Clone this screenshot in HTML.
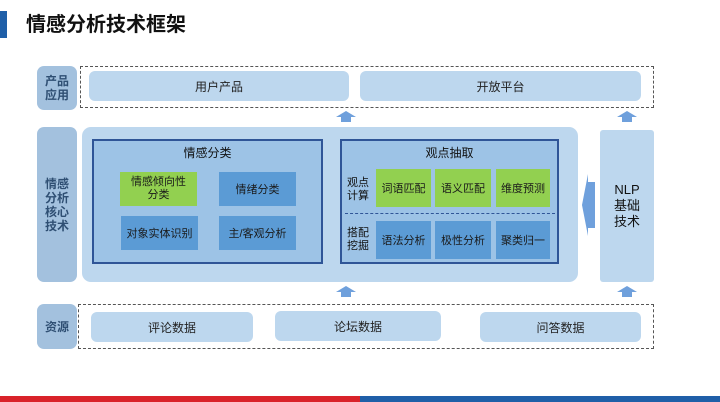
<!DOCTYPE html>
<html><head><meta charset="utf-8"><style>
body{margin:0;width:720px;height:402px;background:#fff;position:relative;overflow:hidden;font-family:"Liberation Sans","Noto Sans CJK SC",sans-serif;}
div{position:absolute;box-sizing:border-box;}
.c{display:flex;align-items:center;justify-content:center;text-align:center;}
.lb{background:#a3c1de;border-radius:7px;color:#2f4f73;font-weight:bold;font-size:12px;line-height:14px;}
.lt{background:#bdd7ee;border-radius:6px;font-size:12px;color:#222;}
.m{background:#5b9bd5;font-size:11px;color:#1a1a1a;}
.g{background:#92d050;font-size:11px;color:#1a1a1a;}
.dash{border:1px dashed #555;}
.ar{width:0;height:0;border-left:10px solid transparent;border-right:10px solid transparent;border-bottom:6px solid #6fa0dc;}
.as{width:10px;height:5px;background:#6fa0dc;}
</style></head><body>
<div style="left:0;top:11px;width:7px;height:27px;background:#1f5fa8"></div>
<div style="left:26px;top:10px;font-size:20px;font-weight:bold;color:#111;line-height:30px">情感分析技术框架</div>

<div class="lb c" style="left:37px;top:66px;width:40px;height:44px">产品<br>应用</div>
<div class="dash" style="left:80px;top:66px;width:574px;height:42px"></div>
<div class="lt c" style="left:89px;top:71px;width:260px;height:30px">用户产品</div>
<div class="lt c" style="left:360px;top:71px;width:281px;height:30px">开放平台</div>

<div class="ar" style="left:336px;top:111px"></div><div class="as" style="left:341px;top:117px"></div>
<div class="ar" style="left:617px;top:111px"></div><div class="as" style="left:622px;top:117px"></div>

<div class="lb c" style="left:37px;top:127px;width:40px;height:155px">情感<br>分析<br>核心<br>技术</div>
<div style="left:82px;top:127px;width:496px;height:155px;background:#bdd7ee;border-radius:9px"></div>
<div style="left:92px;top:139px;width:231px;height:125px;background:#9dc3e6;border:2px solid #2f5597"></div>
<div class="c" style="left:92px;top:143px;width:231px;height:18px;font-size:12px;color:#111">情感分类</div>
<div class="g c" style="left:120px;top:172px;width:77px;height:34px;line-height:13px">情感倾向性<br>分类</div>
<div class="m c" style="left:219px;top:172px;width:77px;height:34px">情绪分类</div>
<div class="m c" style="left:121px;top:216px;width:77px;height:34px">对象实体识别</div>
<div class="m c" style="left:219px;top:216px;width:77px;height:34px">主/客观分析</div>

<div style="left:340px;top:139px;width:219px;height:125px;background:#9dc3e6;border:2px solid #2f5597"></div>
<div class="c" style="left:340px;top:143px;width:219px;height:18px;font-size:12px;color:#111">观点抽取</div>
<div class="c" style="left:342px;top:175px;width:32px;height:30px;font-size:11px;line-height:13px;color:#111">观点<br>计算</div>
<div class="g c" style="left:376px;top:169px;width:55px;height:38px">词语匹配</div>
<div class="g c" style="left:435px;top:169px;width:56px;height:38px">语义匹配</div>
<div class="g c" style="left:496px;top:169px;width:54px;height:38px">维度预测</div>
<div style="left:345px;top:213px;width:210px;height:0;border-top:1px dashed #2f5597"></div>
<div class="c" style="left:342px;top:225px;width:32px;height:30px;font-size:11px;line-height:13px;color:#111">搭配<br>挖掘</div>
<div class="m c" style="left:376px;top:221px;width:55px;height:38px">语法分析</div>
<div class="m c" style="left:435px;top:221px;width:56px;height:38px">极性分析</div>
<div class="m c" style="left:496px;top:221px;width:54px;height:38px">聚类归一</div>

<svg style="position:absolute;left:582px;top:174px" width="14" height="62"><polygon points="0,31 6,0 6,8 13,8 13,54 6,54 6,62" fill="#6fa0dc"/></svg>

<div class="lt c" style="left:600px;top:130px;width:54px;height:152px;border-radius:3px;font-size:13px;line-height:16px;color:#111">NLP<br>基础<br>技术</div>

<div class="ar" style="left:336px;top:286px"></div><div class="as" style="left:341px;top:292px"></div>
<div class="ar" style="left:617px;top:286px"></div><div class="as" style="left:622px;top:292px"></div>

<div class="lb c" style="left:37px;top:304px;width:40px;height:45px">资源</div>
<div class="dash" style="left:78px;top:304px;width:576px;height:45px"></div>
<div class="lt c" style="left:91px;top:312px;width:162px;height:30px">评论数据</div>
<div class="lt c" style="left:275px;top:311px;width:166px;height:30px">论坛数据</div>
<div class="lt c" style="left:480px;top:312px;width:161px;height:30px">问答数据</div>

<div style="left:0;top:396px;width:360px;height:6px;background:#d9222a"></div>
<div style="left:360px;top:396px;width:360px;height:6px;background:#1f5fa8"></div>
</body></html>
